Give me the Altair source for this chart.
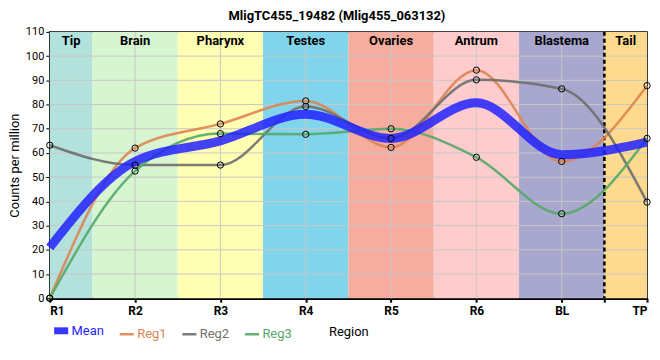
import json
import altair as alt
import pandas as pd

# ---- data ----
regions = ["R1", "R2", "R3", "R4", "R5", "R6", "BL", "TP"]
mean_vals = [21.0, 56.5, 65.0, 76.0, 66.0, 80.7, 59.3, 64.5]
reg1_vals = [0.0, 62.0, 72.0, 81.5, 62.3, 94.2, 56.5, 87.8]
reg2_vals = [63.2, 55.0, 55.0, 79.2, 66.0, 90.2, 86.5, 39.7]
reg3_vals = [0.0, 52.5, 68.0, 67.7, 70.0, 58.2, 34.9, 66.0]

band_names = ["Tip", "Brain", "Pharynx", "Testes", "Ovaries", "Antrum", "Blastema", "Tail"]
band_colors = ["#b3e2dd", "#d6f5d0", "#ffffb3", "#80d4eb", "#f6ac9e", "#fecccc", "#a8a7ce", "#fdda8d"]

series_names = ["Mean", "Reg1", "Reg2", "Reg3"]
series_colors = ["#2222ff", "#dd8452", "#6e6e6e", "#55a868"]

y_ticks = list(range(0, 111, 10))
title_text = "MligTC455_19482 (Mlig455_063132)"

# ---- tables ----
n = len(regions)
last = n - 1
mean_df = pd.DataFrame({"idx": list(range(n)), "value": mean_vals, "series": "Mean"})
reg_df = pd.concat([
    pd.DataFrame({"idx": list(range(n)), "value": v, "series": s})
    for s, v in zip(["Reg1", "Reg2", "Reg3"], [reg1_vals, reg2_vals, reg3_vals])
])
band_df = pd.DataFrame({
    "name": band_names,
    "color": band_colors,
    "start": [max(i - 0.5, 0) for i in range(n)],
    "end": [min(i + 0.5, last) for i in range(n)],
})
band_df["mid"] = (band_df["start"] + band_df["end"]) / 2
vgrid_df = pd.DataFrame({"idx": list(range(1, last))})
hgrid_df = pd.DataFrame({"v": y_ticks[1:-1]})
dash_df = pd.DataFrame({"idx": [last - 0.5]})

label_expr = "datum.value == %s ? '' : %s[datum.value]" % (last - 0.5, json.dumps(regions))

xscale = alt.Scale(domain=[0, last], nice=False, zero=False)
yscale = alt.Scale(domain=[0, 110], nice=False)

x_axis = alt.Axis(
    values=list(range(n)) + [last - 0.5], labelExpr=label_expr, grid=False,
    title="Region", titleFontSize=13, titleFontWeight="normal", titlePadding=9,
    labelFontSize=12, labelFontWeight="bold", labelColor="black", labelOverlap=False,
    domainColor="black", domainWidth=2.5, tickColor="black", tickSize=4, tickWidth=2,
    labelPadding=3,
)
y_axis = alt.Axis(
    values=y_ticks, tickCount=12, grid=False, title="Counts per million", titleFontSize=13,
    titleFontWeight="normal", titleX=-35, titleBaseline="middle", labelFontSize=11,
    labelColor="black", labelOverlap=False, labelPadding=2,
    domainColor="black", domainWidth=2.5, tickColor="black", tickSize=4,
)


def X(field):
    return alt.X(field, scale=xscale, axis=x_axis)


def Y(field):
    return alt.Y(field, scale=yscale, axis=y_axis)


bands = alt.Chart(band_df).mark_rect(opacity=1).encode(
    x=X("start:Q"),
    x2="end:Q",
    y=alt.datum(0, scale=yscale, axis=y_axis),
    y2=alt.datum(110),
    fill=alt.Fill("color:N", scale=None),
)

band_text = alt.Chart(band_df).mark_text(
    baseline="top", dy=3, fontSize=13, fontWeight="bold", color="black"
).encode(x=X("mid:Q"), y=alt.datum(110, scale=yscale, axis=y_axis), text="name:N")

vgrid = alt.Chart(vgrid_df).mark_rule(color="#c8c8c8", strokeWidth=1).encode(x=X("idx:Q"))
hgrid = alt.Chart(hgrid_df).mark_rule(color="#c8c8c8", strokeWidth=1).encode(y=Y("v:Q"))

dash = alt.Chart(dash_df).mark_rule(color="black", strokeWidth=2.5, strokeDash=[4, 3]).encode(x=X("idx:Q"))

color = alt.Color(
    "series:N",
    scale=alt.Scale(domain=series_names, range=series_colors),
    legend=alt.Legend(
        orient="none", legendX=5, legendY=294, direction="horizontal", title=None,
        symbolType="stroke", symbolSize=200,
        symbolStrokeWidth={"expr": "datum.value == 'Mean' ? 7 : 2.5"},
        labelColor={"expr": "scale('color', datum.value)"},
        labelFontSize=13, columnPadding=10, labelOffset=4, padding=0,
    ),
)

reg_lines = alt.Chart(reg_df).mark_line(interpolate="monotone", strokeWidth=2.5, opacity=0.9,
                                        strokeCap="butt").encode(
    x=X("idx:Q"), y=Y("value:Q"), color=color, detail="series:N"
)
mean_line = alt.Chart(mean_df).mark_line(interpolate="monotone", strokeWidth=9, opacity=0.85,
                                         strokeCap="butt").encode(
    x=X("idx:Q"), y=Y("value:Q"), color=color
)
points = alt.Chart(reg_df).mark_point(
    shape="circle", filled=False, stroke="black", strokeWidth=1, size=40, opacity=1
).encode(x=X("idx:Q"), y=Y("value:Q"))

chart = alt.layer(
    bands, vgrid, hgrid, band_text, dash, reg_lines, mean_line, points
).properties(
    width=601, height=268,
    title=alt.TitleParams(title_text, fontSize=13, fontWeight="bold", anchor="middle",
                          frame="bounds", offset=3, color="black"),
    autosize=alt.AutoSizeParams(type="none"),
    padding={"left": 42, "top": 23, "right": 5, "bottom": 45},
).configure(font="Roboto").configure_view(stroke="black", strokeWidth=1.5)

chart.save("out.html", embed_options={"renderer": "svg", "actions": False})
